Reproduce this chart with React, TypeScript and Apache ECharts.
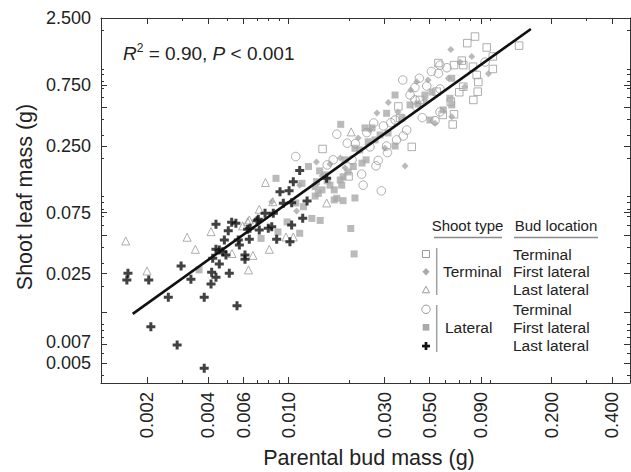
import React, { useEffect, useRef } from "react";
import * as echarts from "echarts";

const L = Math.log10;
const FONT = "'Liberation Sans', Arial, Helvetica, sans-serif";

// Tick labels
const xTickValues = [0.002, 0.004, 0.006, 0.01, 0.03, 0.05, 0.09, 0.2, 0.4];
const xTickLabels = ["0.002", "0.004", "0.006", "0.010", "0.030", "0.050", "0.090", "0.200", "0.400"];
const yTickValues = [0.005, 0.007, 0.025, 0.075, 0.25, 0.75, 2.5];
const yTickLabels = ["0.005", "0.007", "0.025", "0.075", "0.250", "0.750", "2.500"];
const yExtraMajor = [0.0125, 0.05, 0.5];

// Axis ranges (g)
const xRange = [0.001184, 0.492];
const yRange = [0.00348, 2.5];

// Terminal shoot, terminal bud (open square)
const tsTbX = [0.0841, 0.077, 0.139, 0.0961, 0.103, 0.0723, 0.0662, 0.0554, 0.0822, 0.103, 0.0857, 0.0873, 0.0736, 0.0867, 0.0703, 0.0825, 0.0638, 0.0662, 0.0652, 0.0409, 0.0148, 0.0199, 0.0351, 0.0582, 0.0543, 0.0736, 0.0358, 0.0449];
const tsTbY = [1.79, 1.59, 1.52, 1.47, 1.25, 1.16, 1.07, 1.11, 1.04, 0.998, 0.895, 0.789, 0.725, 0.663, 0.656, 0.571, 0.554, 0.441, 0.367, 0.245, 0.236, 0.144, 0.508, 0.436, 0.663, 1.07, 0.413, 0.571];

// Terminal shoot, first lateral bud (grey diamond)
const tsFlX = [0.0638, 0.081, 0.0979, 0.0748, 0.0645, 0.0533, 0.0404, 0.0433, 0.0313, 0.0275, 0.0379, 0.0138, 0.0301, 0.0161, 0.00829, 0.011, 0.062, 0.0222, 0.0181, 0.0114, 0.0475, 0.0191, 0.0254, 0.0349, 0.0492, 0.0708, 0.0147];
const tsFlY = [1.42, 1.25, 0.917, 0.725, 0.422, 0.375, 0.683, 0.794, 0.546, 0.452, 0.174, 0.187, 0.239, 0.18, 0.0913, 0.0772, 0.844, 0.288, 0.201, 0.123, 0.571, 0.168, 0.333, 0.46, 0.818, 1.13, 0.145];

// Terminal shoot, last lateral bud (open triangle)
const tsLlX = [0.00157, 0.002, 0.00316, 0.00347, 0.00415, 0.00527, 0.00636, 0.00669, 0.0063, 0.00595, 0.00719, 0.00806, 0.00975, 0.0106, 0.00772, 0.00839, 0.0155, 0.0205, 0.00642];
const tsLlY = [0.045, 0.0262, 0.0481, 0.0387, 0.0532, 0.0359, 0.0267, 0.0347, 0.0637, 0.059, 0.0796, 0.0387, 0.0483, 0.0483, 0.129, 0.0913, 0.0892, 0.321, 0.0657];

// Lateral shoot, terminal bud (open circle)
const lsTbX = [0.0369, 0.0446, 0.0512, 0.0554, 0.0564, 0.0424, 0.0485, 0.0424, 0.0564, 0.0533, 0.0461, 0.0174, 0.0265, 0.0296, 0.031, 0.0279, 0.0272, 0.0231, 0.0289, 0.0167, 0.0215, 0.0371, 0.0943, 0.0109, 0.0245, 0.0322, 0.0433, 0.0386, 0.0344, 0.0307, 0.0196, 0.0564, 0.0207, 0.0254, 0.0338, 0.0401, 0.0611, 0.0235, 0.0156];
const lsTbY = [0.818, 0.844, 0.954, 0.92, 1.07, 0.715, 0.734, 0.571, 0.46, 0.393, 0.415, 0.308, 0.377, 0.357, 0.221, 0.192, 0.174, 0.15, 0.111, 0.194, 0.26, 0.298, 1.13, 0.206, 0.317, 0.379, 0.506, 0.332, 0.278, 0.249, 0.262, 0.696, 0.194, 0.245, 0.398, 0.624, 1.02, 0.123, 0.177];

// Lateral shoot, first lateral bud (grey filled square)
const lsFlX = [0.0087, 0.0126, 0.0143, 0.0117, 0.0136, 0.0161, 0.0174, 0.0187, 0.0141, 0.0119, 0.0131, 0.0144, 0.0114, 0.00734, 0.0204, 0.0212, 0.0181, 0.0182, 0.0338, 0.0307, 0.0632, 0.0645, 0.0249, 0.0285, 0.0338, 0.0503, 0.0191, 0.021, 0.0187, 0.0184, 0.0243, 0.0214, 0.0645, 0.0586, 0.0138, 0.00362, 0.0169, 0.0152, 0.0226, 0.026, 0.0401, 0.0475, 0.0147, 0.0156, 0.0169, 0.0198, 0.0232, 0.0269, 0.0312, 0.0366, 0.0439, 0.0515, 0.0136, 0.0109, 0.00987, 0.0089, 0.0214, 0.024];
const lsFlY = [0.139, 0.172, 0.159, 0.127, 0.12, 0.123, 0.0971, 0.093, 0.106, 0.0834, 0.0675, 0.0651, 0.0517, 0.0471, 0.0563, 0.0356, 0.135, 0.368, 0.624, 0.449, 0.588, 0.522, 0.269, 0.304, 0.249, 0.398, 0.194, 0.172, 0.143, 0.123, 0.194, 0.239, 0.844, 0.477, 0.131, 0.0267, 0.0942, 0.148, 0.232, 0.345, 0.522, 0.624, 0.113, 0.133, 0.113, 0.156, 0.183, 0.278, 0.315, 0.413, 0.531, 0.659, 0.101, 0.0892, 0.0634, 0.0529, 0.0976, 0.345];

// Lateral shoot, last lateral bud (black cross)
const lsLlX = [0.00161, 0.00159, 0.00204, 0.00295, 0.0033, 0.00255, 0.00209, 0.00282, 0.00384, 0.00384, 0.00415, 0.00418, 0.00439, 0.00456, 0.00423, 0.00439, 0.00456, 0.00474, 0.00483, 0.00439, 0.00511, 0.00558, 0.00505, 0.00525, 0.00551, 0.00566, 0.00573, 0.00611, 0.00611, 0.0063, 0.00642, 0.00701, 0.00492, 0.0114, 0.0106, 0.00911, 0.0101, 0.00946, 0.0104, 0.0124, 0.0155, 0.00768, 0.00844, 0.00711, 0.00829, 0.00797, 0.0104, 0.0118, 0.00877, 0.0102, 0.00719, 0.00647];
const lsLlY = [0.0251, 0.0223, 0.0223, 0.0287, 0.0226, 0.0163, 0.0096, 0.0069, 0.00454, 0.0163, 0.0207, 0.0256, 0.0234, 0.0297, 0.0329, 0.0387, 0.0383, 0.0371, 0.0458, 0.0608, 0.0251, 0.014, 0.0542, 0.063, 0.0619, 0.0458, 0.0419, 0.035, 0.0324, 0.0555, 0.0464, 0.0648, 0.035, 0.16, 0.131, 0.109, 0.111, 0.0887, 0.0897, 0.0925, 0.139, 0.0741, 0.0741, 0.0665, 0.0582, 0.0566, 0.06, 0.0677, 0.0464, 0.0444, 0.0548, 0.0566];

// Regression line end points
const fitX = [0.0017, 0.159];
const fitY = [0.0121, 2.05];

const pairs = (xs: number[], ys: number[]) => xs.map((x, i) => [L(x), L(ys[i])]);

function multiples(lo: number, hi: number) {
  const out: number[] = [];
  for (let e = -4; e <= 1; e++) {
    for (let k = 1; k <= 9; k++) {
      const v = k * Math.pow(10, e);
      if (v >= lo && v <= hi) out.push(L(v));
    }
  }
  return out;
}

const GREY_LINE = "#9a9a9a";
const GREY_FILL = "#a9a9a9";
const AXIS = "#333";

export default function App() {
  const ref = useRef<HTMLDivElement>(null);
  useEffect(() => {
    const chart = echarts.init(ref.current!, null, { renderer: "svg" });
    const xMin = L(xRange[0]);
    const xMax = L(xRange[1]);
    const yMin = L(yRange[0]);
    const yMax = L(yRange[1]);
    const xMajor = xTickValues.map(L);
    const yMajor = [...yTickValues, ...yExtraMajor].map(L);
    const xMinor = multiples(xRange[0], xRange[1]);
    const yMinor = multiples(yRange[0], yRange[1]);
    const fmt = (vals: number[], labels: string[]) => (v: number) => {
      const i = vals.findIndex((t) => Math.abs(L(t) - v) < 1e-6);
      return i >= 0 ? labels[i] : "";
    };
    // y labels: the label just above the lowest one is lifted slightly, as in the reference
    const yFmt = (v: number) => {
      const s = fmt(yTickValues, yTickLabels)(v);
      return Math.abs(v - L(yTickValues[1])) < 1e-6 ? `{lift|${s}}` : s;
    };
    const tickStyle = { color: AXIS, width: 1 };
    const labelCommon = { show: true, hideOverlap: false, showMinLabel: true, showMaxLabel: true, fontSize: 18, lineHeight: 18, color: "#222", fontFamily: FONT };
    const xAxisBase = (pos: string, major: boolean, labels: number[] | null) => ({
      type: "value",
      position: pos,
      min: xMin,
      max: xMax,
      axisLine: { show: major, onZero: false, lineStyle: { color: AXIS, width: 1 } },
      axisTick: { show: true, inside: true, length: major ? 6 : 3, customValues: major ? xMajor : xMinor, lineStyle: tickStyle },
      axisLabel: labels
        ? { ...labelCommon, fontSize: 18.5, customValues: labels.map(L), rotate: 90, margin: 9, formatter: fmt(xTickValues, xTickLabels) }
        : { show: false },
      splitLine: { show: false },
    });
    const yAxisBase = (pos: string, major: boolean, labels: number[] | null) => ({
      type: "value",
      position: pos,
      min: yMin,
      max: yMax,
      axisLine: { show: major, onZero: false, lineStyle: { color: AXIS, width: 1 } },
      axisTick: { show: true, inside: true, length: major ? 6 : 3, customValues: major ? yMajor : yMinor, lineStyle: tickStyle },
      axisLabel: labels
        ? {
            ...labelCommon,
            customValues: labels.map(L),
            margin: 10,
            formatter: yFmt,
            rich: { lift: { fontSize: 18, lineHeight: 18, fontFamily: FONT, color: "#222", padding: [0, 0, 5, 0] } },
          }
        : { show: false },
      splitLine: { show: false },
    });

    const openStyle = { color: "rgba(255,255,255,0)", borderColor: GREY_LINE, borderWidth: 1 };
    const scatter = (name: string, data: number[][], symbol: string, size: number, itemStyle: any) => ({
      name,
      type: "scatter",
      xAxisIndex: 0,
      yAxisIndex: 0,
      data,
      symbol,
      symbolSize: size,
      itemStyle,
      silent: true,
    });

    const lx = 426;
    const textStyle = (text: string, x: number, y: number, align = "left", size = 15.5) => ({
      type: "text",
      x,
      y,
      silent: true,
      style: { text, fill: "#222", font: `${size}px ${FONT}`, align, verticalAlign: "middle" },
    });
    const seg = (x1: number, y1: number, x2: number, y2: number, color = "#8c8c8c") => ({
      type: "line",
      silent: true,
      shape: { x1, y1, x2, y2 },
      style: { stroke: color, lineWidth: 1.5 },
    });

    const option: any = {
      animation: false,
      backgroundColor: "#fff",
      grid: { left: 101, top: 18, width: 529, height: 365, containLabel: false },
      xAxis: [
        xAxisBase("bottom", true, xTickValues),
        xAxisBase("bottom", false, null),
        xAxisBase("top", true, null),
        xAxisBase("top", false, null),
      ],
      yAxis: [
        // main left axis: all labels except the lowest, which sits on its own axis so the two close labels both show
        yAxisBase("left", true, yTickValues.slice(1)),
        yAxisBase("left", false, yTickValues.slice(0, 1)),
        yAxisBase("right", true, null),
        yAxisBase("right", false, null),
      ],
      series: [
        scatter("Terminal shoot / terminal bud", pairs(tsTbX, tsTbY), "rect", 7.5, openStyle),
        scatter("Terminal shoot / first lateral", pairs(tsFlX, tsFlY), "diamond", 7, { color: GREY_FILL }),
        scatter("Lateral shoot / first lateral", pairs(lsFlX, lsFlY), "rect", 7, { color: GREY_FILL }),
        scatter("Lateral shoot / terminal bud", pairs(lsTbX, lsTbY), "circle", 8.5, openStyle),
        scatter("Terminal shoot / last lateral", pairs(tsLlX, tsLlY), "triangle", 8, openStyle),
        scatter("Lateral shoot / last lateral", pairs(lsLlX, lsLlY), "path://M3,0H6V3H9V6H6V9H3V6H0V3H3Z", 9, { color: "#111" }),
        {
          name: "fit",
          type: "line",
          xAxisIndex: 0,
          yAxisIndex: 0,
          data: pairs(fitX, fitY),
          symbol: "none",
          silent: true,
          z: 5,
          lineStyle: { color: "#111", width: 2.6 },
        },
      ],
      graphic: [
        {
          type: "text",
          x: 123,
          y: 53,
          silent: true,
          style: {
            text: "{i|R}{s|2}{n| = 0.90, }{i|P}{n| < 0.001}",
            fill: "#222",
            font: `19px ${FONT}`,
            verticalAlign: "middle",
            rich: {
              i: { fontStyle: "italic", fontSize: 19, fontFamily: FONT, lineHeight: 22, fill: "#222" },
              n: { fontSize: 19, fontFamily: FONT, lineHeight: 22, fill: "#222" },
              s: { fontSize: 12, fontFamily: FONT, lineHeight: 12, verticalAlign: "top", fill: "#222" },
            },
          },
        },
        {
          type: "text",
          x: 369,
          y: 458,
          silent: true,
          style: { text: "Parental bud mass (g)", fill: "#222", font: `21.5px ${FONT}`, align: "center", verticalAlign: "middle" },
        },
        {
          type: "text",
          x: 25,
          y: 197,
          rotation: Math.PI / 2,
          silent: true,
          style: { text: "Shoot leaf mass (g)", fill: "#222", font: `21.5px ${FONT}`, align: "center", verticalAlign: "middle" },
        },
        textStyle("Shoot type", 467.5, 225.5, "center", 15),
        textStyle("Bud location", 556, 225.5, "center", 15),
        seg(434, 237.5, 502, 237.5),
        seg(514, 237.5, 598, 237.5),
        seg(436.7, 248, 436.7, 295, "#a0a0a0"),
        seg(436.7, 305, 436.7, 352, "#a0a0a0"),
        { type: "rect", silent: true, shape: { x: lx - 3.5, y: 250.5, width: 7, height: 7 }, style: { fill: "none", stroke: GREY_LINE, lineWidth: 1 } },
        { type: "polygon", silent: true, shape: { points: [[lx, 268], [lx + 3.6, 271.7], [lx, 275.4], [lx - 3.6, 271.7]] }, style: { fill: GREY_FILL } },
        { type: "polygon", silent: true, shape: { points: [[lx, 286.3], [lx + 3.6, 292.8], [lx - 3.6, 292.8]] }, style: { fill: "none", stroke: GREY_LINE, lineWidth: 1 } },
        { type: "circle", silent: true, shape: { cx: lx, cy: 309.3, r: 4.2 }, style: { fill: "none", stroke: GREY_LINE, lineWidth: 1 } },
        { type: "rect", silent: true, shape: { x: lx - 3.3, y: 324, width: 6.6, height: 6.6 }, style: { fill: GREY_FILL } },
        { type: "rect", silent: true, shape: { x: lx - 4, y: 344.7, width: 8, height: 2.7 }, style: { fill: "#111" } },
        { type: "rect", silent: true, shape: { x: lx - 1.35, y: 342, width: 2.7, height: 8 }, style: { fill: "#111" } },
        textStyle("Terminal", 443, 271.7),
        textStyle("Lateral", 445, 327.3),
        textStyle("Terminal", 513, 254),
        textStyle("First lateral", 513, 271.7),
        textStyle("Last lateral", 513, 289.5),
        textStyle("Terminal", 513, 309),
        textStyle("First lateral", 513, 327.3),
        textStyle("Last lateral", 513, 345.5),
      ],
    };
    chart.setOption(option);
    return () => chart.dispose();
  }, []);
  return (
    <div
      ref={ref}
      style={{ position: "absolute", left: 0, top: 0, width: 631, height: 472, background: "#fff" }}
    />
  );
}
